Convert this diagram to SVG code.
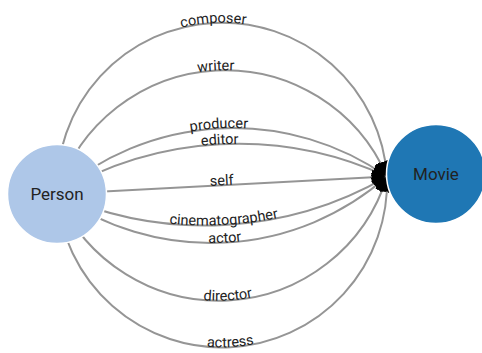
<svg xmlns="http://www.w3.org/2000/svg" xmlns:xlink="http://www.w3.org/1999/xlink" width="482" height="353" viewBox="0 0 482 353">
  <style>
    .link { fill: none; stroke: #959595; stroke-width: 2; marker-end: url(#arrow); }
    .elabel { font-family: Roboto, "Liberation Sans", sans-serif; font-size: 14.5px; fill: #222; }
    .node circle { stroke: #fff; stroke-width: 1.5; }
    .nlabel { font-family: Roboto, "Liberation Sans", sans-serif; font-size: 17px; fill: #222; text-anchor: middle; }
  </style>
  <defs>
    <marker id="arrow" viewBox="0 -5 10 10" refX="10" refY="0" markerUnits="userSpaceOnUse" markerWidth="15" markerHeight="15" orient="auto">
      <path d="M0,-5L10,0L0,5Z" fill="#000"/>
    </marker>
  </defs>
  <rect width="482" height="353" fill="#fff"/>
  <g id="links">
    <path id="e-composer" class="link" d="M57,194 A165.25,165.25 0 0,1 387,176.6"/>
    <path id="e-writer" class="link" d="M57,194 A176.2,176.2 0 0,1 387,176.6"/>
    <path id="e-producer" class="link" d="M57,194 A267.98,267.98 0 0,1 387,176.6"/>
    <path id="e-editor" class="link" d="M57,194 A353.44,353.44 0 0,1 387,176.6"/>
    <path id="e-self" class="link" d="M57,194 L387,176.6"/>
    <path id="e-cinematographer" class="link" d="M57,194 A363.7,363.7 0 0,0 387,176.6"/>
    <path id="e-actor" class="link" d="M57,194 A266.5,266.5 0 0,0 387,176.6"/>
    <path id="e-director" class="link" d="M57,194 A176.0,176.0 0 0,0 387,176.6"/>
    <path id="e-actress" class="link" d="M57,194 A165.26,165.26 0 0,0 387,176.6"/>
    <text class="elabel"><textPath href="#e-composer" xlink:href="#e-composer" startOffset="50%" text-anchor="middle">composer</textPath></text>
    <text class="elabel"><textPath href="#e-writer" xlink:href="#e-writer" startOffset="50%" text-anchor="middle">writer</textPath></text>
    <text class="elabel"><textPath href="#e-producer" xlink:href="#e-producer" startOffset="50%" text-anchor="middle">producer</textPath></text>
    <text class="elabel"><textPath href="#e-editor" xlink:href="#e-editor" startOffset="50%" text-anchor="middle">editor</textPath></text>
    <text class="elabel"><textPath href="#e-self" xlink:href="#e-self" startOffset="50%" text-anchor="middle">self</textPath></text>
    <text class="elabel"><textPath href="#e-cinematographer" xlink:href="#e-cinematographer" startOffset="50%" text-anchor="middle">cinematographer</textPath></text>
    <text class="elabel"><textPath href="#e-actor" xlink:href="#e-actor" startOffset="50%" text-anchor="middle">actor</textPath></text>
    <text class="elabel"><textPath href="#e-director" xlink:href="#e-director" startOffset="50%" text-anchor="middle">director</textPath></text>
    <text class="elabel"><textPath href="#e-actress" xlink:href="#e-actress" startOffset="50%" text-anchor="middle">actress</textPath></text>
  </g>
  <g id="node-person" class="node">
    <circle cx="57" cy="194" r="49.5" fill="#aec7e8"/>
    <text class="nlabel" x="57" y="200">Person</text>
  </g>
  <g id="node-movie" class="node">
    <circle cx="436" cy="174" r="49.5" fill="#1f77b4"/>
    <text class="nlabel" x="436" y="180">Movie</text>
  </g>
</svg>
